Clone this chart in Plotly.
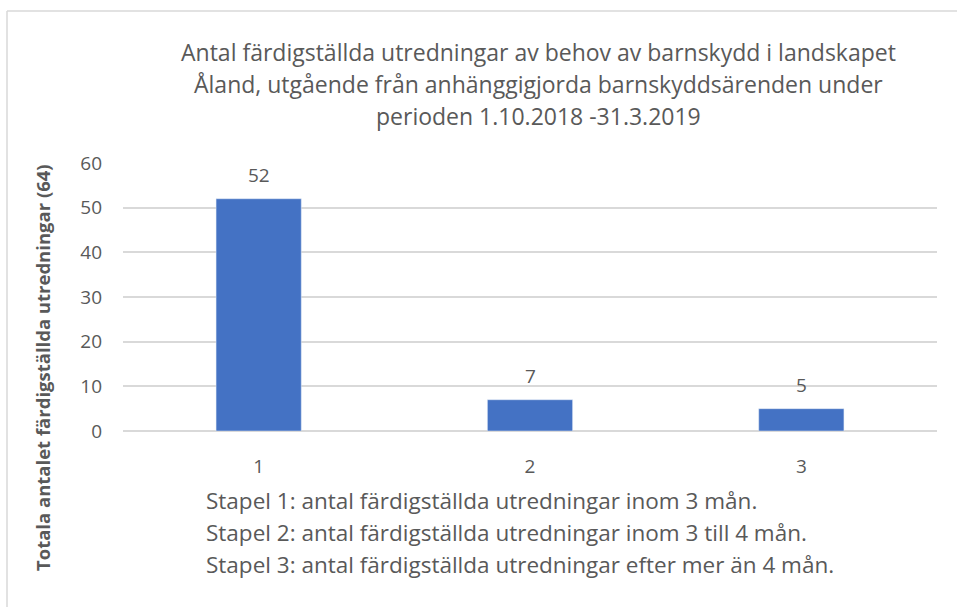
import plotly.graph_objects as go

categories = ["1", "2", "3"]
values = [52, 7, 5]
title_lines = [
    "Antal färdigställda utredningar av behov av barnskydd i landskapet",
    "Åland, utgående från anhänggigjorda barnskyddsärenden under",
    "perioden 1.10.2018 -31.3.2019",
]
y_title = "Totala antalet färdigställda utredningar (64)"
x_title_lines = [
    "Stapel 1: antal färdigställda utredningar inom 3 mån.",
    "Stapel 2: antal färdigställda utredningar inom 3 till 4 mån.",
    "Stapel 3: antal färdigställda utredningar efter mer än 4 mån.",
]

FONT = "'Open Sans', 'Noto Sans', sans-serif"
GRAY = "#595959"

W, H = 957, 607
L, R, T, B = 123, 20, 163, 176
pw, ph = W - L - R, H - T - B

def px_x(x):
    return (x - L) / pw

def px_y(y):
    return (H - B - y) / ph

fig = go.Figure(go.Bar(
    x=categories, y=values,
    marker_color="#4472C4",
    hoverinfo="x+y",
))

fig.update_layout(
    width=W, height=H,
    margin=dict(l=L, r=R, t=T, b=B),
    paper_bgcolor="white", plot_bgcolor="white",
    bargap=0.686,
    showlegend=False,
    font=dict(family=FONT, color=GRAY),
    xaxis=dict(
        type="category",
        showgrid=False, showline=False, ticks="",
        tickfont=dict(size=19, color=GRAY, family=FONT),
        ticklabelstandoff=22,
    ),
    yaxis=dict(
        range=[0, 60], dtick=10, showgrid=True, gridcolor="#D9D9D9", gridwidth=1.5,
        zeroline=True, zerolinecolor="#D9D9D9", zerolinewidth=1.5,
        showline=False, ticks="",
        tickfont=dict(size=19, color=GRAY, family=FONT),
        ticklabelstandoff=20,
    ),
)

# data labels (x given as category index)
for i, v in enumerate(values):
    fig.add_annotation(x=i, y=v, text=str(v), showarrow=False,
                       yanchor="middle", yshift=24,
                       font=dict(size=19, color=GRAY, family=FONT))

# chart title lines
for line, yc in zip(title_lines, [52, 84, 116]):
    fig.add_annotation(text=line, xref="paper", yref="paper",
                       x=px_x(538), y=px_y(yc), xanchor="center", yanchor="middle",
                       showarrow=False, font=dict(size=23, color=GRAY, family=FONT))

# y axis title
fig.add_annotation(
    text="<b>" + y_title + "</b>", textangle=-90,
    xref="paper", yref="paper", x=px_x(42), y=px_y(368),
    xanchor="center", yanchor="middle", showarrow=False,
    font=dict(size=18.5, color=GRAY, family=FONT),
)

# x axis title lines
for line, yc in zip(x_title_lines, [500, 532, 564]):
    fig.add_annotation(text=line, xref="paper", yref="paper",
                       x=px_x(204), y=px_y(yc), xanchor="left", yanchor="middle",
                       showarrow=False, font=dict(size=22.5, color=GRAY, family=FONT))

fig.add_shape(type="line", xref="paper", yref="paper",
              x0=px_x(7), x1=px_x(957), y0=px_y(11), y1=px_y(11),
              line=dict(color="#D9D9D9", width=1.5))
fig.add_shape(type="line", xref="paper", yref="paper",
              x0=px_x(7), x1=px_x(7), y0=px_y(11), y1=px_y(607),
              line=dict(color="#D9D9D9", width=1.5))

fig.write_html("out.html", config={"displayModeBar": False},
               post_script="document.body.style.margin='0';")
